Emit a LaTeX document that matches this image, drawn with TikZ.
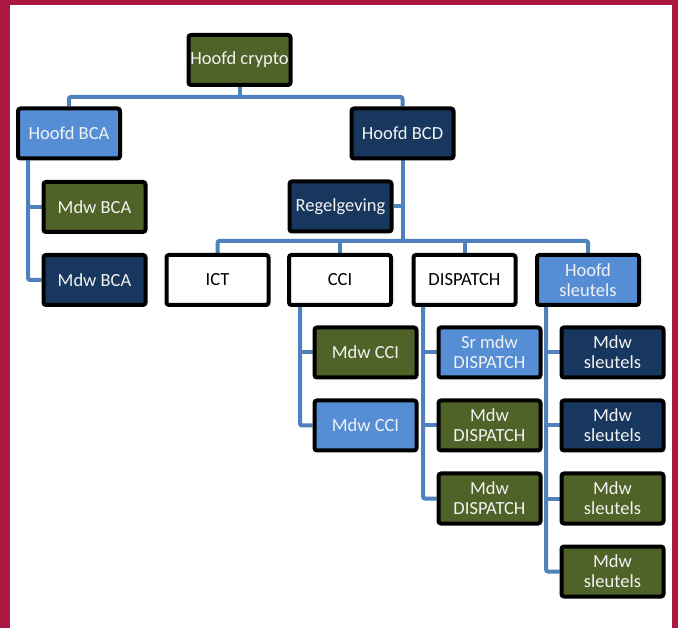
\documentclass[tikz,border=0pt]{standalone}
\usepackage{fontspec}
\setmainfont{Carlito}
\usetikzlibrary{backgrounds}
\definecolor{crim}{HTML}{AB1942}
\definecolor{olivebox}{HTML}{4F6228}
\definecolor{navybox}{HTML}{17375E}
\definecolor{lbluebox}{HTML}{558ED5}
\definecolor{conn}{HTML}{4F81BD}
\definecolor{ltext}{HTML}{F2F2F2}
\begin{document}
\begin{tikzpicture}[x=1pt,y=-1pt,
 box/.style={draw=black, line width=4pt, rounded corners=2.5pt, minimum width=102pt, minimum height=50pt, inner sep=0pt, align=center, font=\fontsize{18.5}{20}\selectfont, text=ltext},
 gbox/.style={box, fill=olivebox},
 nbox/.style={box, fill=navybox},
 bbox/.style={box, fill=lbluebox},
 wbox/.style={box, fill=white, text=black},
 link/.style={draw=conn, line width=4pt, rounded corners=2pt}]
\useasboundingbox (0,0) rectangle (678,628);

\node[gbox] (crypto) at (239.5,60) {Hoofd crypto};
\node[bbox] (hBCA) at (69,133.5) {Hoofd BCA};
\node[nbox] (hBCD) at (402.5,133.5) {Hoofd BCD};
\node[gbox] (mBCA1) at (94.5,207) {Mdw BCA};
\node[nbox] (mBCA2) at (94.5,280) {Mdw BCA};
\node[nbox] (regel) at (340.5,206.5) {Regelgeving};
\node[wbox] (ICT) at (217.5,280) {ICT};
\node[wbox] (CCI) at (340,280) {CCI};
\node[wbox] (DISP) at (464.5,280) {DISPATCH};
\node[bbox] (hsleut) at (588,280) {Hoofd\\sleutels};
\node[gbox] (mCCI1) at (365.5,352.5) {Mdw CCI};
\node[bbox] (mCCI2) at (365.5,425.5) {Mdw CCI};
\node[bbox] (srDISP) at (489.5,352.5) {Sr mdw\\DISPATCH};
\node[gbox] (mDISP1) at (489.5,425.5) {Mdw\\DISPATCH};
\node[gbox] (mDISP2) at (489.5,498.5) {Mdw\\DISPATCH};
\node[nbox] (ms1) at (612.5,352.5) {Mdw\\sleutels};
\node[nbox] (ms2) at (612.5,425.5) {Mdw\\sleutels};
\node[gbox] (ms3) at (612.5,498.5) {Mdw\\sleutels};
\node[gbox] (ms4) at (612.5,571.5) {Mdw\\sleutels};

\begin{pgfonlayer}{background}
\fill[white] (0,0) rectangle (678,628);
\fill[crim] (0,0) rectangle (678,5);
\fill[crim] (0,0) rectangle (10,628);
\fill[crim] (672,0) rectangle (678,628);
\draw[link] (crypto.south) -- (crypto.south |- 0,97);
\draw[link] (hBCA.north) -- (hBCA.north |- 0,97) -- (hBCD.north |- 0,97) -- (hBCD.north);
\draw[link] (hBCA.south -| 28,0) |- (mBCA2.west);
\draw[link] (mBCA1.west -| 28,0) -- (mBCA1.west);
\draw[link] (hBCD.south) -- (hBCD.south |- 0,241);
\draw[link] (regel.east) -- (regel.east -| hBCD.south);
\draw[link] (ICT.north) -- (ICT.north |- 0,241) -- (hsleut.north |- 0,241) -- (hsleut.north);
\draw[link] (CCI.north) -- (CCI.north |- 0,241);
\draw[link] (DISP.north) -- (DISP.north |- 0,241);
\draw[link] (CCI.south -| 300,0) |- (mCCI2.west);
\draw[link] (mCCI1.west -| 300,0) -- (mCCI1.west);
\draw[link] (DISP.south -| 423,0) |- (mDISP2.west);
\draw[link] (srDISP.west -| 423,0) -- (srDISP.west);
\draw[link] (mDISP1.west -| 423,0) -- (mDISP1.west);
\draw[link] (hsleut.south -| 546,0) |- (ms4.west);
\draw[link] (ms1.west -| 546,0) -- (ms1.west);
\draw[link] (ms2.west -| 546,0) -- (ms2.west);
\draw[link] (ms3.west -| 546,0) -- (ms3.west);
\end{pgfonlayer}
\end{tikzpicture}
\end{document}
